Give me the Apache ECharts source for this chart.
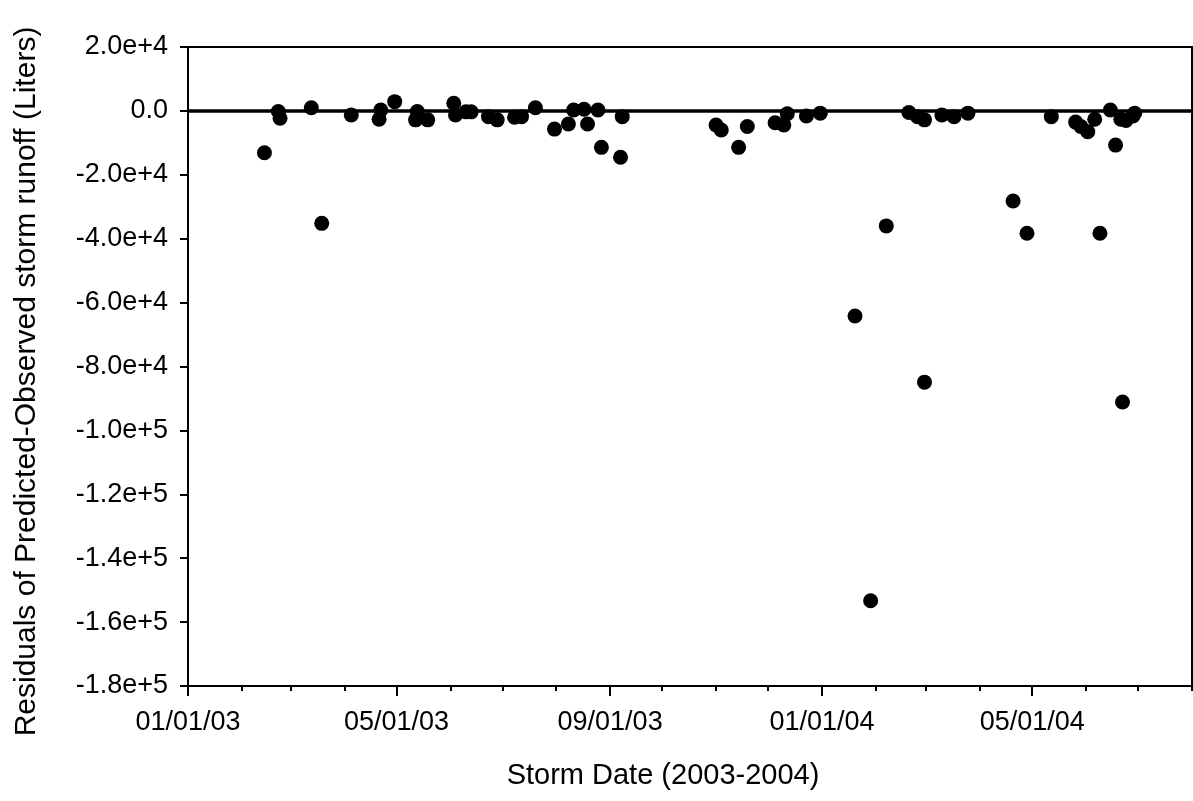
<!DOCTYPE html>
<html>
<head>
<meta charset="utf-8">
<script src="https://cdn.jsdelivr.net/npm/echarts@6/dist/echarts.min.js"></script>
<style>
html,body{margin:0;padding:0;background:#fff;}
#chart{width:1193px;height:801px;}
</style>
</head>
<body>
<div id="chart"></div>
<script>
// ---- data ----
var stormDates = [
 '2003-02-14','2003-02-22','2003-02-23','2003-03-13','2003-03-19','2003-04-05','2003-04-22','2003-04-21',
 '2003-04-30','2003-05-13','2003-05-12','2003-05-19','2003-06-03','2003-06-04','2003-06-10','2003-06-13',
 '2003-06-23','2003-06-28','2003-07-08','2003-07-12','2003-07-20','2003-07-31','2003-08-08','2003-08-11',
 '2003-08-17','2003-08-19','2003-08-25','2003-08-27','2003-09-08','2003-09-07',
 '2003-11-01','2003-11-04','2003-11-14','2003-11-19','2003-12-05','2003-12-10','2003-12-12','2003-12-23',
 '2003-12-31','2004-01-20','2004-01-29','2004-02-07','2004-02-20','2004-02-25','2004-02-29','2004-02-29',
 '2004-03-10','2004-03-17','2004-03-25','2004-04-20','2004-04-28','2004-05-12','2004-05-26','2004-05-29',
 '2004-06-02','2004-06-06','2004-06-09','2004-06-15','2004-06-18','2004-06-21','2004-06-22','2004-06-24',
 '2004-06-28','2004-06-29'
];
var residuals = [
 -13100, -200, -2300, 1000, -35200, -1300, 300, -2600,
 2900, -200, -2800, -2800, 2400, -1300, -300, -300,
 -1800, -2800, -2000, -1800, 1000, -5700, -4100, 300,
 500, -4100, 300, -11400, -1800, -14500,
 -4400, -6000, -11400, -4900, -3700, -4400, -900, -1600,
 -700, -64200, -153300, -36000, -500, -1800, -2800, -84900,
 -1300, -1800, -700, -28200, -38300, -1800, -3500, -4900,
 -6500, -2600, -38300, 300, -10700, -2600, -91100, -3000,
 -1600, -700
];
var xStart = '2003-01-01';
var xEnd = '2004-08-01';
var xMajorTickDates = ['2003-01-01','2003-05-01','2003-09-01','2004-01-01','2004-05-01'];
var xMajorTickLabels = ['01/01/03','05/01/03','09/01/03','01/01/04','05/01/04'];
var xMinorTickDates = ['2003-01-01','2003-02-01','2003-03-01','2003-04-01','2003-05-01','2003-06-01',
 '2003-07-01','2003-08-01','2003-09-01','2003-10-01','2003-11-01','2003-12-01','2004-01-01','2004-02-01',
 '2004-03-01','2004-04-01','2004-05-01','2004-06-01','2004-07-01','2004-08-01'];
var yMin = -180000, yMax = 20000, yStep = 20000;

// ---- helpers ----
function dayNum(s){
  var p = s.split('-');
  return (Date.UTC(+p[0], +p[1]-1, +p[2]) - Date.UTC(2003,0,1)) / 86400000;
}
var points = stormDates.map(function(d,i){ return [dayNum(d), residuals[i]]; });
var majorDays = xMajorTickDates.map(dayNum);
var minorDays = xMinorTickDates.map(dayNum);
var labelMap = {};
majorDays.forEach(function(d,i){ labelMap[d] = xMajorTickLabels[i]; });

var FONT = '"Liberation Sans", Arial, sans-serif';
var chart = echarts.init(document.getElementById('chart'));
chart.setOption({
  animation: false,
  backgroundColor: '#ffffff',
  grid: {
    left: 188, right: 1, top: 47, bottom: 115,
    show: true, borderColor: '#000', borderWidth: 2, backgroundColor: 'transparent',
    containLabel: false, outerBoundsMode: 'none'
  },
  xAxis: [{
    type: 'value', min: dayNum(xStart), max: dayNum(xEnd), position: 'bottom',
    name: 'Storm Date (2003-2004)', nameLocation: 'middle', nameGap: 75,
    nameTextStyle: { fontFamily: FONT, fontSize: 29, color: '#000', padding: [0, 54, 0, 0] },
    axisLine: { show: true, onZero: false, lineStyle: { color: '#000', width: 2 } },
    axisTick: { show: true, length: 10, lineStyle: { color: '#000', width: 2 }, customValues: majorDays },
    axisLabel: { show: true, margin: 23, fontFamily: FONT, fontSize: 27, color: '#000',
      customValues: majorDays,
      formatter: function(v){ return labelMap[v] !== undefined ? labelMap[v] : ''; } },
    splitLine: { show: false }
  }, {
    type: 'value', min: dayNum(xStart), max: dayNum(xEnd), position: 'bottom',
    axisLine: { show: false, onZero: false },
    axisTick: { show: true, length: 5, lineStyle: { color: '#000', width: 2 }, customValues: minorDays },
    axisLabel: { show: false },
    splitLine: { show: false }
  }],
  yAxis: {
    type: 'value', min: yMin, max: yMax, interval: yStep,
    name: 'Residuals of Predicted-Observed storm runoff (Liters)',
    nameLocation: 'middle', nameGap: 146,
    nameTextStyle: { fontFamily: FONT, fontSize: 30, color: '#000', padding: [0, 30, 0, 0] },
    axisLine: { show: true, onZero: false, lineStyle: { color: '#000', width: 2 } },
    axisTick: { show: true, length: 8, lineStyle: { color: '#000', width: 2 } },
    axisLabel: { margin: 20, fontFamily: FONT, fontSize: 27, color: '#000',
      formatter: function(v){ return v === 0 ? '0.0' : v.toExponential(1); } },
    splitLine: { show: false }
  },
  series: [{
    type: 'scatter',
    xAxisIndex: 0,
    data: points,
    symbol: 'circle',
    symbolSize: 15,
    itemStyle: { color: '#000', opacity: 1 },
    markLine: {
      silent: true, symbol: ['none','none'],
      label: { show: false },
      lineStyle: { color: '#000', width: 3.5, type: 'solid' },
      data: [{ yAxis: 0 }]
    }
  }]
});
</script>
</body>
</html>
